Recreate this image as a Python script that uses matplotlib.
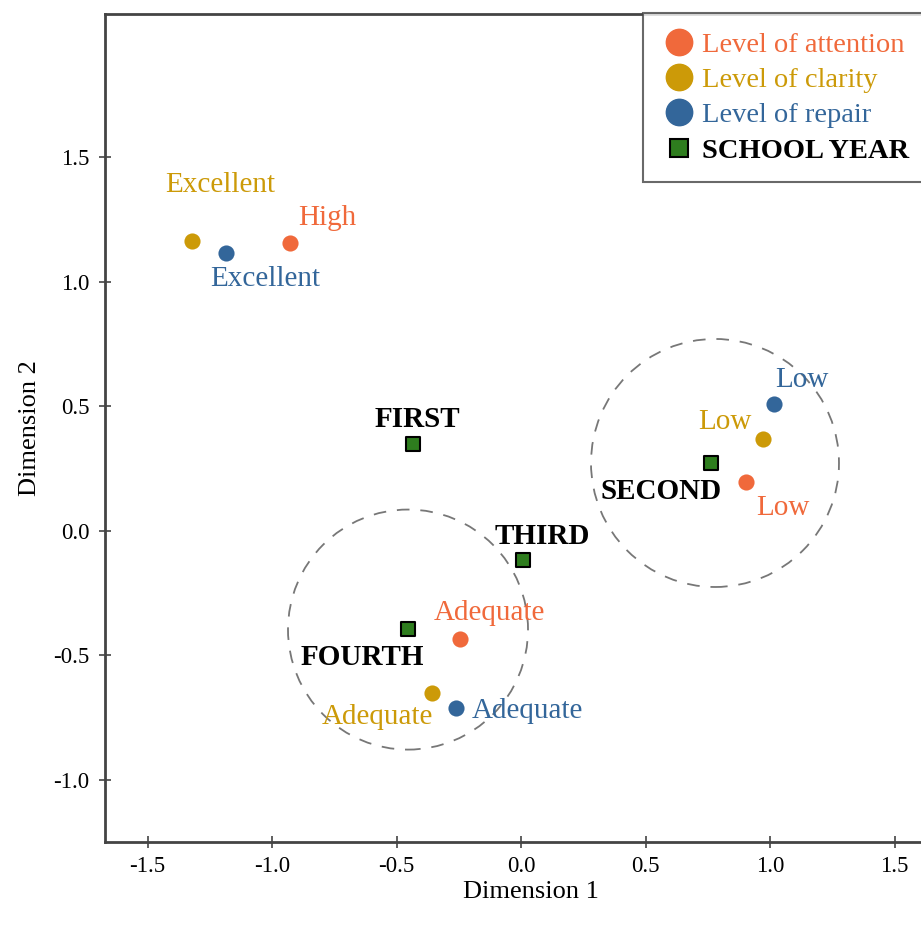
import matplotlib.pyplot as plt
from matplotlib.lines import Line2D
from matplotlib.patches import Circle

plt.rcParams['font.family'] = ['Liberation Serif', 'DejaVu Serif']

# Category coordinates on the two dimensions
levels = ['High', 'Adequate', 'Low']
attention_x = [-0.928, -0.245, 0.904]
attention_y = [1.157, -0.434, 0.197]

quality = ['Excellent', 'Adequate', 'Low']
clarity_x = [-1.321, -0.357, 0.972]
clarity_y = [1.165, -0.651, 0.369]

repair_x = [-1.185, -0.261, 1.016]
repair_y = [1.116, -0.711, 0.510]

years = ['FIRST', 'SECOND', 'THIRD', 'FOURTH']
year_x = [-0.434, 0.763, 0.008, -0.454]
year_y = [0.349, 0.273, -0.116, -0.394]

# grouping circles: centre x, centre y, radius
group_x = [-0.454, 0.779]
group_y = [-0.396, 0.273]
group_r = [0.482, 0.498]

c_att = '#F0693B'
c_cla = '#CC9A08'
c_rep = '#33669A'
c_year = '#2E7D1E'
spine_c = '#444444'

fig = plt.figure(figsize=(9.21, 9.26), dpi=100)
ax = fig.add_axes([105 / 921, 84 / 926, 852 / 921, 828 / 926])
ax.set_xlim(-1.671, 1.751)
ax.set_ylim(-1.249, 2.076)

for cx, cy, r in zip(group_x, group_y, group_r):
    ax.add_patch(Circle((cx, cy), r, fill=False, ec='#777777', lw=1.3,
                        ls=(0, (7, 6)), zorder=1))

ax.scatter(attention_x, attention_y, s=135, color=c_att, zorder=3, lw=0)
ax.scatter(clarity_x, clarity_y, s=135, color=c_cla, zorder=3, lw=0)
ax.scatter(repair_x, repair_y, s=135, color=c_rep, zorder=3, lw=0)
ax.scatter(year_x, year_y, s=95, marker='s', color=c_year, ec='black',
           lw=1.5, zorder=3)

# label offsets in pixels (right, up)
att_off = [(37, 25), (29, 26), (37, -26)]
cla_off = [(28, 56), (-55, -24), (-38, 17)]
rep_off = [(39, -26), (71, -3), (28, 24)]
year_off = [(4, 25), (-50, -29), (19, 23), (-46, -28)]

fs = 21
for xs, ys, names, offs, col in [
        (attention_x, attention_y, levels, att_off, c_att),
        (clarity_x, clarity_y, quality, cla_off, c_cla),
        (repair_x, repair_y, quality, rep_off, c_rep)]:
    for x, y, n, o in zip(xs, ys, names, offs):
        ax.annotate(n, (x, y), xytext=o, textcoords='offset pixels',
                    ha='center', va='center', color=col, fontsize=fs)
for x, y, n, o in zip(year_x, year_y, years, year_off):
    ax.annotate(n, (x, y), xytext=o, textcoords='offset pixels',
                ha='center', va='center', color='black', fontsize=fs,
                fontweight='bold')

ax.set_xticks([-1.5, -1.0, -0.5, 0.0, 0.5, 1.0, 1.5])
ax.set_yticks([-1.0, -0.5, 0.0, 0.5, 1.0, 1.5])
ax.set_xticklabels(['-1.5', '-1.0', '-0.5', '0.0', '0.5', '1.0', '1.5'])
ax.set_yticklabels(['-1.0', '-0.5', '0.0', '0.5', '1.0', '1.5'])
ax.tick_params(direction='inout', length=9, width=1.2, color=spine_c,
               labelsize=16.5)
ax.tick_params(axis='x', pad=5.5)
ax.tick_params(axis='y', pad=6.5)
for sp in ax.spines.values():
    sp.set_color(spine_c)
    sp.set_linewidth(2)

ax.set_xlabel('Dimension 1', fontsize=19, labelpad=3)
ax.set_ylabel('Dimension 2', fontsize=19, labelpad=9)

handles = [
    Line2D([], [], ls='none', marker='o', ms=19, color=c_att),
    Line2D([], [], ls='none', marker='o', ms=19, color=c_cla),
    Line2D([], [], ls='none', marker='o', ms=19, color=c_rep),
    Line2D([], [], ls='none', marker='s', ms=13, mfc=c_year, mec='black',
           mew=1.5),
]
leg = fig.legend(handles, ['Level of attention', 'Level of clarity',
                           'Level of repair', 'SCHOOL YEAR'],
                 loc='upper left', bbox_to_anchor=(643 / 921, 1 - 13 / 926),
                 fontsize=20.5, frameon=True, fancybox=False,
                 edgecolor=spine_c, handlelength=1.2, handletextpad=0.2,
                 labelspacing=0.33, borderpad=0.66, borderaxespad=0)
leg.get_frame().set_linewidth(1.5)
for t, c in zip(leg.get_texts(), [c_att, c_cla, c_rep, 'black']):
    t.set_color(c)
leg.get_texts()[3].set_fontweight('bold')

fig.savefig('out.png', dpi=100)
